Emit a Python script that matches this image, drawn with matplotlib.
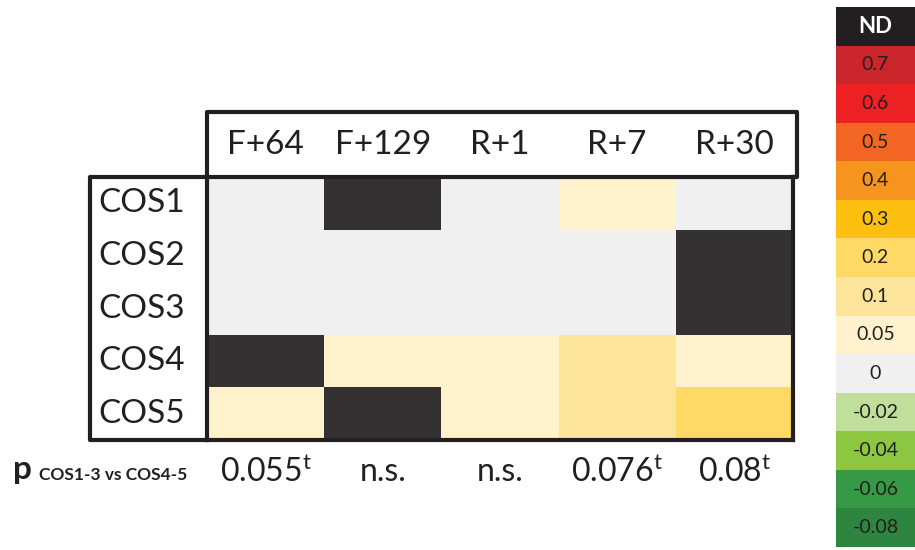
import numpy as np
import matplotlib
matplotlib.use('Agg')
import matplotlib.pyplot as plt
from matplotlib.colors import ListedColormap, BoundaryNorm

plt.rcParams['font.family'] = ['Lato', 'DejaVu Sans']
plt.rcParams['mathtext.fontset'] = 'custom'
plt.rcParams['mathtext.rm'] = 'Lato'

# Dados
rows = ['COS1', 'COS2', 'COS3', 'COS4', 'COS5']
cols = ['F+64', 'F+129', 'R+1', 'R+7', 'R+30']
nd = np.nan
values = [
    [0, nd, 0, 0.05, 0],
    [0, 0, 0, 0, nd],
    [0, 0, 0, 0, nd],
    [nd, 0.05, 0.05, 0.1, 0.05],
    [0.05, nd, 0.05, 0.1, 0.2],
]
p_labels = ['0.055$^{\\mathrm{t}}$', 'n.s.', 'n.s.', '0.076$^{\\mathrm{t}}$', '0.08$^{\\mathrm{t}}$']

levels = [-0.08, -0.06, -0.04, -0.02, 0, 0.05, 0.1, 0.2, 0.3, 0.4, 0.5, 0.6, 0.7]
level_labels = ['-0.08', '-0.06', '-0.04', '-0.02', '0', '0.05', '0.1', '0.2', '0.3', '0.4', '0.5', '0.6', '0.7']
level_colors = ['#2E8540', '#369945', '#8DC641', '#C0DF9A', '#F0F0F0', '#FFF2CC',
                '#FCE59B', '#FFD966', '#FDC010', '#F7941D', '#F26522', '#ED2024', '#C9252B']
nd_color = '#333132'
nd_legend_color = '#231F20'

# Escala discreta
cmap = ListedColormap(level_colors)
cmap.set_bad(nd_color)
bounds = [levels[0] - 0.01] + [(a + b) / 2 for a, b in zip(levels[:-1], levels[1:])] + [levels[-1] + 0.05]
norm = BoundaryNorm(bounds, cmap.N)

W, H = 915, 550
fig = plt.figure(figsize=(W / 100, H / 100), dpi=100)

def fx(px):
    return px / W

def fy(py):
    return 1 - py / H

# Heatmap
x0, x1, y0, y1 = 207, 793, 177, 440
ax = fig.add_axes([fx(x0), fy(y1), fx(x1 - x0), (y1 - y0) / H])
data = np.ma.masked_invalid(np.array(values, dtype=float))
ax.pcolormesh(np.arange(len(cols) + 1), np.arange(len(rows) + 1), data, cmap=cmap, norm=norm)
ax.set_xlim(0, len(cols))
ax.set_ylim(len(rows), 0)
ax.set_xticks([])
ax.set_yticks([])
for s in ax.spines.values():
    s.set_linewidth(3)
    s.set_color('#231F20')

# Caixa do cabeçalho e dos rótulos das linhas
hh = 65 / (y1 - y0)
lw_ = 117 / (x1 - x0)
kw = dict(color='#231F20', lw=3, transform=ax.transAxes, clip_on=False, solid_capstyle='projecting')
ax.plot([0, 0, 1.007, 1.007, 1.0], [1, 1 + hh, 1 + hh, 1, 1], **kw)
ax.plot([0, -lw_, -lw_, 0], [1, 1, 0, 0], **kw)

for i, c in enumerate(cols):
    ax.text(i + 0.5, -0.6, c, ha='center', va='center', fontsize=24, color='#231F20')
    ax.text(i + 0.5, len(rows) + 0.6, p_labels[i], ha='center', va='center', fontsize=23, color='#231F20')
for j, r in enumerate(rows):
    ax.text(-0.93, j + 0.5, r, ha='left', va='center', fontsize=24, color='#231F20')

fig.text(fx(13), fy(470), 'p', fontsize=24, fontweight='bold', ha='left', va='center', color='#231F20')
fig.text(fx(39), fy(475), 'COS1-3 vs COS4-5', fontsize=12.5, fontweight='bold', ha='left', va='center', color='#231F20')

# Legenda de cores
cax = fig.add_axes([fx(836), fy(547), fx(915 - 836), 540 / H])
leg_vals = [nd] + levels[::-1]
leg_text = ['ND'] + level_labels[::-1]
leg = np.ma.masked_invalid(np.array(leg_vals, dtype=float).reshape(-1, 1))
leg_cmap = cmap.copy()
leg_cmap.set_bad(nd_legend_color)
cax.pcolormesh([0, 1], np.arange(len(leg_vals) + 1), leg, cmap=leg_cmap, norm=norm)
cax.set_xlim(0, 1)
cax.set_ylim(len(leg_vals), 0)
cax.axis('off')
for k, t in enumerate(leg_text):
    if t == 'ND':
        cax.text(0.5, k + 0.5, t, ha='center', va='center', fontsize=16, fontweight='bold', color='white')
    else:
        cax.text(0.5, k + 0.5, t, ha='center', va='center', fontsize=14, color='#231F20')

fig.savefig('out.png', dpi=100)
